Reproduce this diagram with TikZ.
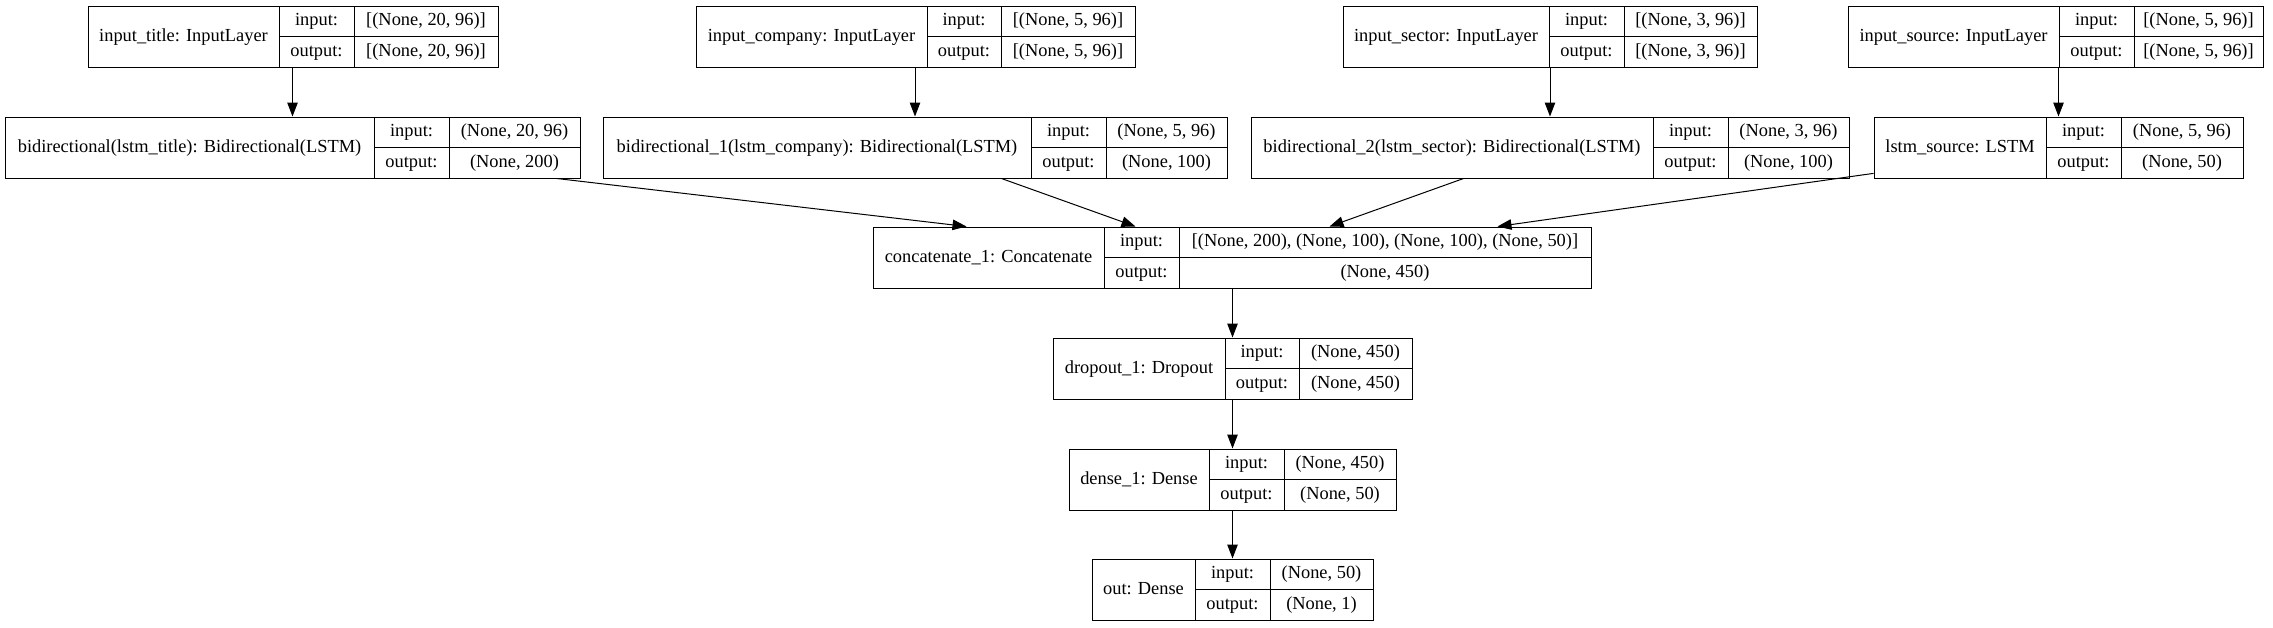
\documentclass[tikz,border=0pt]{standalone}
\usepackage{fontspec}
\setmainfont{Liberation Serif}
\usetikzlibrary{arrows.meta}
\tikzset{
  box/.style={draw, line width=1pt, inner sep=0pt, minimum height=61pt},
  cell/.style={inner sep=0pt, text height=13pt, text depth=4pt},
  edge/.style={-{Triangle[length=14pt,width=10.5pt]}, line width=1pt},
}
% name, left, split 1, split 2, right, top, title, input, output
\newcommand{\layer}[9]{%
  \node[box, minimum width={(#5-#2)*1pt}] (#1) at ({(#2+#5)/2}, #6+30.5) {};
  \draw[line width=1pt] (#3, #6) -- (#3, #6+61) (#4, #6) -- (#4, #6+61) %
  (#3, #6+30.5) -- (#5, #6+30.5);
  \node[cell] (#1-name) at ({(#2+#3)/2}, #6+30.5) {#7};
  \node[cell] (#1-in) at ({(#3+#4)/2}, #6+15.25) {input:};
  \node[cell] (#1-out) at ({(#3+#4)/2}, #6+45.75) {output:};
  \node[cell] (#1-inv) at ({(#4+#5)/2}, #6+15.25) {#8};
  \node[cell] (#1-outv) at ({(#4+#5)/2}, #6+45.75) {#9};
}
\begin{document}
\begin{tikzpicture}[x=1pt, y=-1pt, font=\fontsize{18.4pt}{22pt}\selectfont]
  \useasboundingbox (0, 0) rectangle (2273, 627);
  \layer{intitle}{88}{279}{354}{498}{6}{input\_title: InputLayer}{[(None, 20, 96)]}{[(None, 20, 96)]}
  \layer{incompany}{696}{927}{1001}{1135}{6}{input\_company: InputLayer}{[(None, 5, 96)]}{[(None, 5, 96)]}
  \layer{insector}{1343}{1549}{1624}{1757}{6}{input\_sector: InputLayer}{[(None, 3, 96)]}{[(None, 3, 96)]}
  \layer{insource}{1848}{2059}{2134}{2263}{6}{input\_source: InputLayer}{[(None, 5, 96)]}{[(None, 5, 96)]}
  \layer{bititle}{5}{374}{449}{580}{117}{bidirectional(lstm\_title): Bidirectional(LSTM)}{(None, 20, 96)}{(None, 200)}
  \layer{bicompany}{603}{1031}{1106}{1227}{117}{bidirectional\_1(lstm\_company): Bidirectional(LSTM)}{(None, 5, 96)}{(None, 100)}
  \layer{bisector}{1251}{1653}{1728}{1849}{117}{bidirectional\_2(lstm\_sector): Bidirectional(LSTM)}{(None, 3, 96)}{(None, 100)}
  \layer{lstmsource}{1874}{2046}{2121}{2243}{117}{lstm\_source: LSTM}{(None, 5, 96)}{(None, 50)}
  \layer{concat}{873}{1104}{1179}{1591}{227}{concatenate\_1: Concatenate}{[(None, 200), (None, 100), (None, 100), (None, 50)]}{(None, 450)}
  \layer{dropout}{1053}{1225}{1299}{1412}{338}{dropout\_1: Dropout}{(None, 450)}{(None, 450)}
  \layer{dense}{1069}{1209}{1284}{1396}{449}{dense\_1: Dense}{(None, 450)}{(None, 50)}
  \layer{out}{1092}{1195}{1270}{1373}{559}{out: Dense}{(None, 50)}{(None, 1)}
  % inputs
  \draw[edge] (bititle.north |- intitle.south) -- (bititle.north);
  \draw[edge] (bicompany.north |- incompany.south) -- (bicompany.north);
  \draw[edge] (bisector.north |- insector.south) -- (bisector.north);
  \draw[edge] (lstmsource.north |- insource.south) -- (lstmsource.north);
  % merge
  \draw[edge] (bititle) -- ([xshift=94pt]concat.north west);
  \draw[edge] (bicompany) -- ([xshift=263pt]concat.north west);
  \draw[edge] (bisector) -- ([xshift=457pt]concat.north west);
  \draw[edge] (lstmsource) -- ([xshift=625pt]concat.north west);
  \draw[edge] (dropout.north |- concat.south) -- (dropout.north);
  \draw[edge] (dense.north |- dropout.south) -- (dense.north);
  \draw[edge] (out.north |- dense.south) -- (out.north);
\end{tikzpicture}
\end{document}
